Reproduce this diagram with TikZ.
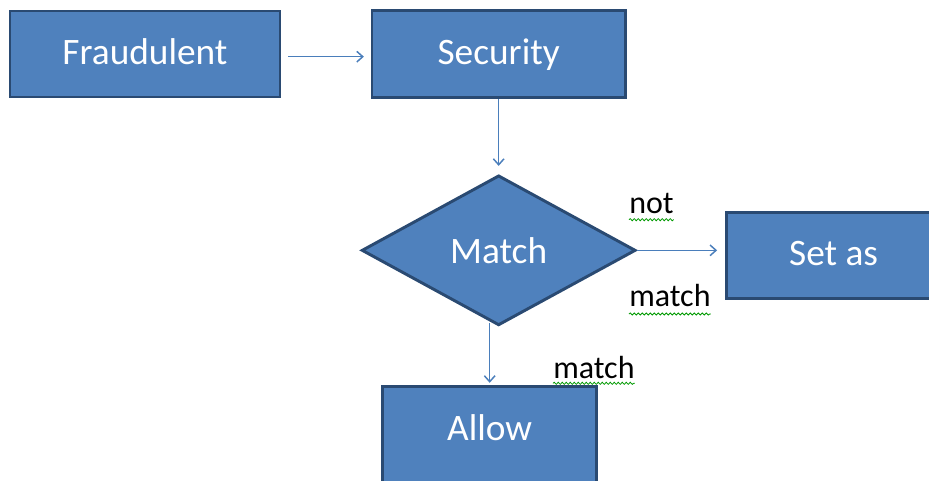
\documentclass[tikz,border=0pt]{standalone}
\usepackage{fontspec}
\setmainfont{Carlito}
\usetikzlibrary{shapes.geometric,arrows.meta,positioning,decorations.pathmorphing}

\definecolor{boxfill}{HTML}{4F81BD}
\definecolor{boxline}{HTML}{2A4A72}
\definecolor{linkcol}{HTML}{4A7EBB}

\begin{document}
\begin{tikzpicture}[
                    x=0.75pt, y=-0.75pt,
                    box/.style={draw=boxline, fill=boxfill, line width=2.2pt, rectangle, minimum width=190pt, minimum height=65pt, align=center, text=white, font=\fontsize{28}{32}\selectfont, text height=20pt, text depth=5pt},
                    decision/.style={draw=boxline, fill=boxfill, line width=2.2pt, diamond, inner sep=0pt, minimum width=205.5pt, minimum height=112.5pt, text=white, font=\fontsize{28}{32}\selectfont},
                    link/.style={draw=linkcol, line width=1.1pt, -{Straight Barb[length=4.5pt,width=8pt]}},
                    cond/.style={inner sep=0pt, font=\fontsize{24}{28}\selectfont},
                    squiggle/.style={draw=green!60!black, line width=0.6pt, decorate, decoration={snake, segment length=3pt, amplitude=0.8pt}}
                ]
                    \clip (0,0) rectangle (929,480);

                    \node[box, minimum width=202.5pt, minimum height=64.5pt] (fr) at (145,54) {Fraudulent};
                    \node[box, right=66.8pt of fr] (se) {Security};
                    \node[decision, below=56.3pt of se] (d) {Match};
                    \node[box, minimum width=160.5pt, minimum height=64.5pt, right=66pt of d, yshift=-3.75pt] (sa) {Set as};
                    \node[box, minimum width=160.5pt, minimum height=75pt, text depth=13pt, below=43.5pt of d, xshift=-6.75pt] (al) {Allow};

                    \draw[link, shorten <=5pt, shorten >=5pt] ([yshift=-2pt]fr.east) -- ([yshift=-2pt]fr.east -| se.west);
                    \draw[link, shorten >=6pt] (se.south) -- (d.north);
                    \draw[link, shorten >=6pt] (d.east) -- (d.east -| sa.west);
                    \draw[link, shorten <=-3pt, shorten >=1.5pt] (al.north |- d.south) -- (al.north);

                    % branch labels
                    \node[cond, anchor=base west] (lnot) at (629,213) {not};
                    \node[cond, anchor=base west] (lmiss) at (629,306) {match};
                    \node[cond, anchor=base west] (lhit) at (553,378) {match};

                    \draw[squiggle] ([yshift=-5pt]lnot.base west) -- ([yshift=-5pt]lnot.base east);
                    \draw[squiggle] ([yshift=-6pt]lmiss.base west) -- ([yshift=-6pt]lmiss.base east);
                    \draw[squiggle] ([yshift=-4pt]lhit.base west) -- ([yshift=-4pt]lhit.base east);
                \end{tikzpicture}
\end{document}
